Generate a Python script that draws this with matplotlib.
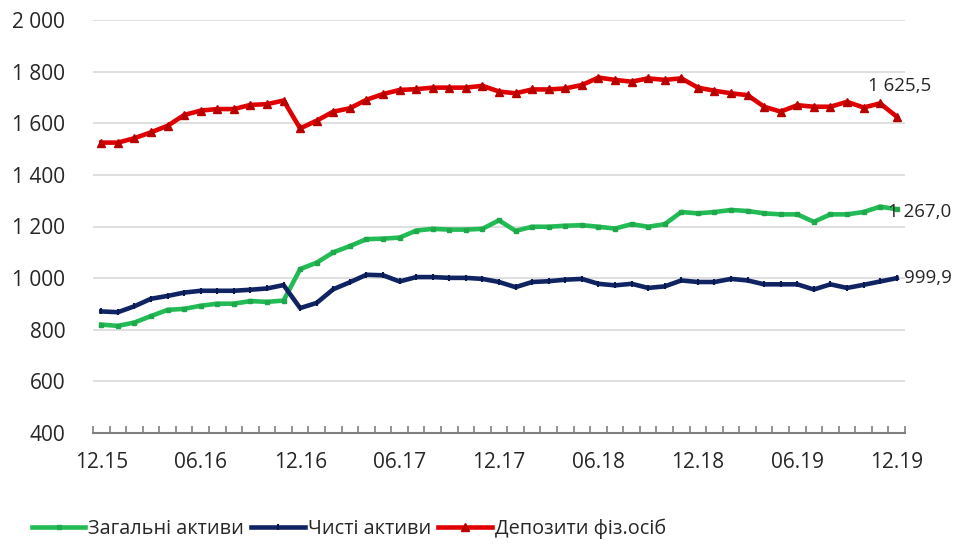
import numpy as np
import matplotlib.pyplot as plt

plt.rcParams['font.family'] = ['Open Sans', 'DejaVu Sans']

# monthly values, 12.15 .. 12.19
total_assets = [820, 815, 828, 853, 877, 881, 893, 901, 901, 911, 908, 913,
                1035, 1060, 1100, 1124, 1151, 1153, 1157, 1184, 1191, 1188, 1188, 1191,
                1224, 1183, 1199, 1199, 1203, 1205, 1199, 1192, 1209, 1199, 1209, 1256,
                1251, 1256, 1264, 1260, 1251, 1247, 1247, 1218, 1247, 1247, 1256, 1277,
                1267.0]
net_assets = [871, 868, 891, 920, 931, 944, 951, 951, 951, 955, 960, 973,
              884, 904, 957, 984, 1013, 1011, 987, 1004, 1004, 1001, 1001, 997,
              985, 965, 985, 988, 994, 997, 978, 972, 978, 962, 968, 991,
              985, 985, 997, 991, 976, 976, 976, 956, 976, 962, 974, 987,
              999.9]
deposits = [1525, 1525, 1542, 1565, 1590, 1632, 1649, 1655, 1655, 1671, 1674, 1688,
            1580, 1610, 1645, 1658, 1691, 1713, 1729, 1732, 1738, 1738, 1738, 1745,
            1723, 1716, 1731, 1731, 1735, 1748, 1777, 1768, 1761, 1774, 1768, 1774,
            1738, 1726, 1716, 1709, 1664, 1645, 1670, 1664, 1664, 1683, 1661, 1677,
            1625.5]
tick_labels = ['12.15', '06.16', '12.16', '06.17', '12.17', '06.18', '12.18', '06.19', '12.19']
names = ['Загальні активи', 'Чисті активи', 'Депозити фіз.осіб']

x = np.arange(len(deposits))
txt = '#262626'

fig = plt.figure(figsize=(9.63, 5.44), dpi=100)
ax = fig.add_axes([93 / 963, 1 - 433 / 544, 812 / 963, 413 / 544])

ax.plot(x, total_assets, color='#22BB55', lw=3.3, marker='s', ms=3.5,
        mfc='#1FA84C', mec='#1FA84C', label=names[0], zorder=3)
ax.plot(x, net_assets, color='#102464', lw=3.3, marker='|', ms=5, mew=1.5,
        mec='#0A1A50', label=names[1], zorder=3)
ax.plot(x, deposits, color='#E00000', lw=3.3, marker='^', ms=5.5,
        mfc='#B80000', mec='#B80000', label=names[2], zorder=3)

# value labels at the last point
last = len(deposits) - 1
ax.annotate('1 625,5', (last, deposits[-1]), xytext=(2, 22), textcoords='offset points',
            ha='center', va='center', fontsize=13.5, color=txt)
ax.annotate('1 267,0', (last, total_assets[-1]), xytext=(-6, -2), textcoords='offset points',
            ha='left', va='center', fontsize=13.5, color=txt)
ax.annotate('999,9', (last, net_assets[-1]), xytext=(5, 0), textcoords='offset points',
            ha='left', va='center', fontsize=13.5, color=txt)

ax.set_xlim(-0.5, last + 0.5)
ax.set_ylim(400, 2000)
ax.set_yticks(np.arange(400, 2001, 200))
ax.set_yticklabels([f'{v:,}'.replace(',', ' ') for v in range(400, 2001, 200)])
ax.set_xticks(x[::6])
ax.set_xticklabels(tick_labels)
ax.set_xticks(np.arange(-0.5, last + 1, 1), minor=True)

ax.grid(axis='y', color='#D9D9D9', lw=1.2)
ax.set_axisbelow(True)
for s in ['top', 'right', 'left']:
    ax.spines[s].set_visible(False)
ax.spines['bottom'].set_color('#808080')
ax.spines['bottom'].set_linewidth(1.5)
ax.tick_params(axis='y', length=0, pad=20, labelsize=15, labelcolor=txt)
ax.tick_params(axis='x', which='major', length=0, pad=14, labelsize=15, labelcolor=txt)
ax.tick_params(axis='x', which='minor', direction='in', length=5, width=1.2, color='#808080')

fig.legend(loc='center left', bbox_to_anchor=(0.033, 1 - 529 / 544), ncol=3, frameon=False,
           fontsize=14.3, handlelength=2.7, handletextpad=0.15, columnspacing=0.35,
           labelcolor=txt, borderaxespad=0, borderpad=0)

fig.savefig('out.png', dpi=100)
